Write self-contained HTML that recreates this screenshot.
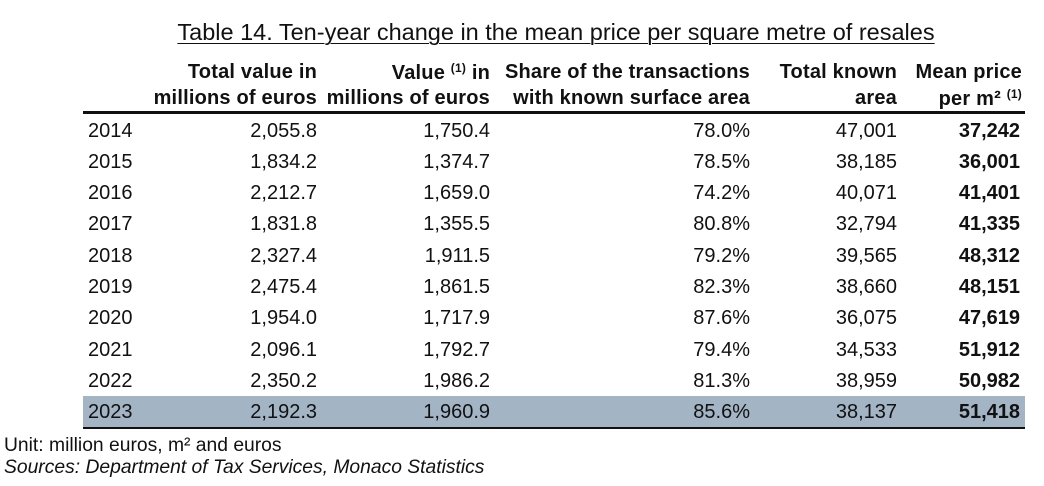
<!DOCTYPE html>
<html><head><meta charset="utf-8"><style>
body{margin:0;width:1044px;height:486px;background:#fff;font-family:"Liberation Sans",sans-serif;color:#111;position:relative;overflow:hidden}
.a{position:absolute;white-space:nowrap;line-height:1}
.t{font-size:23.5px;left:0;width:1112px;text-align:center;top:21px}
.t span{text-decoration:underline;text-underline-offset:3px;text-decoration-thickness:1px}
.h{font-weight:bold;font-size:20px;text-align:right;letter-spacing:0.2px}
.r{font-size:20px;text-align:right}
.b{font-weight:bold}
sup{font-size:12px;vertical-align:7px}
</style></head><body>
<div class="a t"><span>Table 14. Ten-year change in the mean price per square metre of resales</span></div>
<div class="a h" style="right:727px;top:62px">Total value in</div>
<div class="a h" style="right:727px;top:88px">millions of euros</div>
<div class="a h" style="right:554px;top:62px">Value <sup>(1)</sup> in</div>
<div class="a h" style="right:554px;top:88px">millions of euros</div>
<div class="a h" style="right:294px;top:62px">Share of the transactions</div>
<div class="a h" style="right:294px;top:88px">with known surface area</div>
<div class="a h" style="right:147px;top:62px">Total known</div>
<div class="a h" style="right:147px;top:88px">area</div>
<div class="a h" style="right:22px;top:62px">Mean price</div>
<div class="a h" style="right:22px;top:88px">per m² <sup>(1)</sup></div>
<div style="position:absolute;left:83px;width:942px;top:111px;height:3px;background:#111"></div>
<div style="position:absolute;left:83px;width:942px;top:396px;height:31px;background:#a3b4c4"></div>
<div style="position:absolute;left:83px;width:942px;top:427px;height:2px;background:#111"></div>
<div id="rows"></div>
<div class="a" style="left:4px;top:436px;font-size:19.3px">Unit: million euros, m² and euros</div>
<div class="a" style="left:4px;top:458px;font-size:19.3px;font-style:italic">Sources: Department of Tax Services, Monaco Statistics</div>
<script>
var d=[["2014","2,055.8","1,750.4","78.0%","47,001","37,242"],["2015","1,834.2","1,374.7","78.5%","38,185","36,001"],["2016","2,212.7","1,659.0","74.2%","40,071","41,401"],["2017","1,831.8","1,355.5","80.8%","32,794","41,335"],["2018","2,327.4","1,911.5","79.2%","39,565","48,312"],["2019","2,475.4","1,861.5","82.3%","38,660","48,151"],["2020","1,954.0","1,717.9","87.6%","36,075","47,619"],["2021","2,096.1","1,792.7","79.4%","34,533","51,912"],["2022","2,350.2","1,986.2","81.3%","38,959","50,982"],["2023","2,192.3","1,960.9","85.6%","38,137","51,418"]];
var rights=[727,554,294,147,24],h="";
d.forEach(function(r,i){var top=120.5+i*31.3;
h+='<div class="a r" style="left:88px;top:'+top+'px">'+r[0]+'</div>';
for(var j=1;j<6;j++)h+='<div class="a r'+(j==5?' b':'')+'" style="right:'+rights[j-1]+'px;top:'+top+'px">'+r[j]+'</div>';});
document.getElementById("rows").innerHTML=h;
</script>
</body></html>
